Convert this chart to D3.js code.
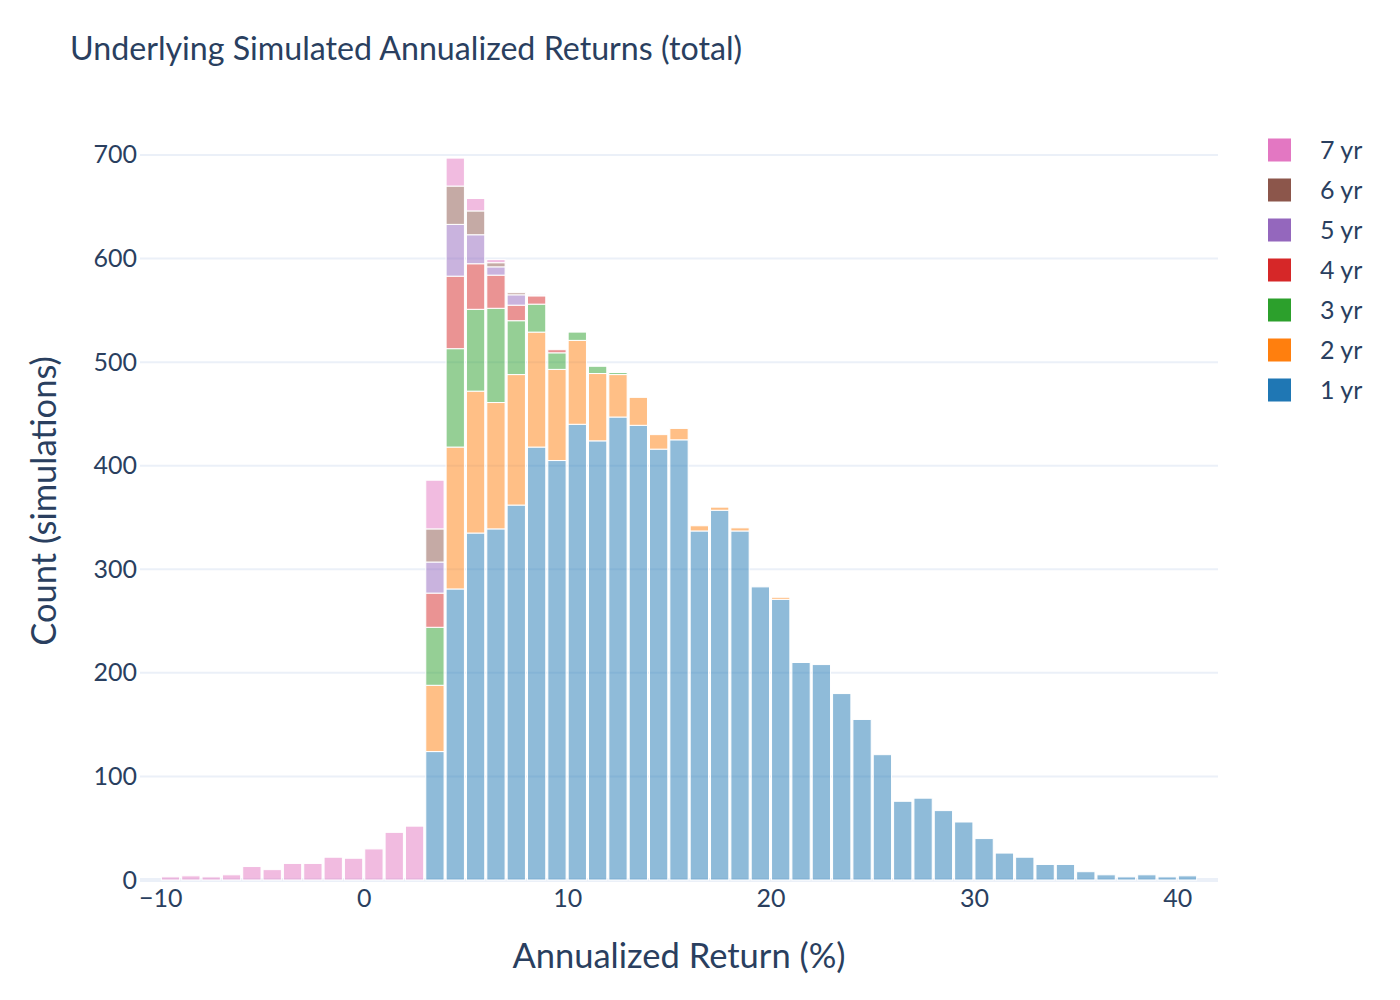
<!DOCTYPE html>
<html>
<head>
<meta charset="utf-8">
<script src="https://cdn.jsdelivr.net/npm/d3@7"></script>
<style>
  body { margin: 0; background: #fff; }
  text { font-family: "Source Sans Pro", Lato, "Noto Sans", sans-serif; fill: #2a3f5f; }
</style>
</head>
<body>
<svg id="chart"></svg>
<script>
// histogram bins, width 1 (%), labelled by bin start
var bins = [-10,-9,-8,-7,-6,-5,-4,-3,-2,-1,0,1,2,3,4,5,6,7,8,9,10,11,12,13,14,15,16,17,18,19,20,
            21,22,23,24,25,26,27,28,29,30,31,32,33,34,35,36,37,38,39,40];

// counts per horizon, each list starts at the bin given in *From
var yr1From = 3;
var yr1 = [124,281,335,339,362,418,405,440,424,447,439,416,425,337,357,337,283,271,210,208,180,155,121,76,79,67,56,40,26,22,15,15,8,5,3,5,3,4];
var yr2From = 3;
var yr2 = [64,137,137,122,126,111,88,81,65,41,27,14,11,5,3,3,0,2];
var yr3From = 3;
var yr3 = [56,95,79,91,52,27,16,8,7,2];
var yr4From = 3;
var yr4 = [33,70,44,32,15,8,3];
var yr5From = 3;
var yr5 = [30,50,28,8,10,1];
var yr6From = 3;
var yr6 = [32,37,23,4,2];
var yr7From = -10;
var yr7 = [3,4,3,5,13,10,16,16,22,21,30,46,52,47,27,12,3];

var seriesNames = ["1 yr","2 yr","3 yr","4 yr","5 yr","6 yr","7 yr"];
var seriesColors = ["#1f77b4","#ff7f0e","#2ca02c","#d62728","#9467bd","#8c564b","#e377c2"];
var yTicks = [0,100,200,300,400,500,600,700];
var xTicks = [-10,0,10,20,30,40];

var lists = [[yr1,yr1From],[yr2,yr2From],[yr3,yr3From],[yr4,yr4From],[yr5,yr5From],[yr6,yr6From],[yr7,yr7From]];

// table: one row per bin
var table = bins.map(function(b){
    var row = {bin: b};
    seriesNames.forEach(function(name, i){
        var arr = lists[i][0], from = lists[i][1];
        var v = arr[b - from];
        row[name] = v === undefined ? 0 : v;
    });
    return row;
});

var width = 1400, height = 1000;
var margin = {top: 122, right: 182, bottom: 120, left: 140};

var svg = d3.select("#chart")
    .attr("width", width)
    .attr("height", height);

var stack = d3.stack().keys(seriesNames)(table);
var maxTotal = d3.max(table, function(r){ return d3.sum(seriesNames, function(n){ return r[n]; }); });

var xScale = d3.scaleLinear()
    .domain([-11, 42])
    .range([margin.left, width - margin.right]);

var yScale = d3.scaleLinear()
    .domain([0, maxTotal * 1.05])
    .range([height - margin.bottom, margin.top]);

// gridlines
svg.append("g")
    .selectAll("line")
    .data(yTicks.filter(function(t){ return t > 0; }))
    .enter()
    .append("line")
    .attr("x1", xScale.range()[0])
    .attr("x2", xScale.range()[1])
    .attr("y1", function(d){ return yScale(d); })
    .attr("y2", function(d){ return yScale(d); })
    .attr("stroke", "#EBF0F8")
    .attr("stroke-width", 2);

// zero line
svg.append("line")
    .attr("x1", xScale.range()[0])
    .attr("x2", xScale.range()[1])
    .attr("y1", yScale(0))
    .attr("y2", yScale(0))
    .attr("stroke", "#EBF0F8")
    .attr("stroke-width", 4);

// bars
var bargap = 0.1;
var layers = svg.append("g")
    .selectAll("g")
    .data(stack)
    .enter()
    .append("g")
    .attr("fill", function(d, i){ return seriesColors[i]; })
    .attr("fill-opacity", 0.5);

layers.selectAll("rect")
    .data(function(d){ return d.filter(function(p){ return p[1] > p[0]; }); })
    .enter()
    .append("rect")
    .attr("x", function(p){ return xScale(p.data.bin + bargap / 2); })
    .attr("width", function(p){ return xScale(p.data.bin + 1 - bargap / 2) - xScale(p.data.bin + bargap / 2); })
    .attr("y", function(p){ return yScale(p[1]); })
    .attr("height", function(p){ return yScale(p[0]) - yScale(p[1]); })
    .attr("stroke", "#fff")
    .attr("stroke-width", 1);

// axes (labels only, plotly style)
var xAxis = d3.axisBottom(xScale).tickValues(xTicks).tickSize(0).tickPadding(0)
    .tickFormat(function(d){ return d < 0 ? "\u2212" + Math.abs(d) : d; });
var gx = svg.append("g")
    .attr("transform", "translate(0," + (height - margin.bottom) + ")")
    .call(xAxis);
gx.select(".domain").remove();
gx.selectAll("text")
    .attr("y", 27)
    .attr("dy", 0)
    .style("font-size", "25px")
    .attr("fill", "#2a3f5f");

var yAxis = d3.axisLeft(yScale).tickValues(yTicks).tickSize(0).tickPadding(3);
var gy = svg.append("g")
    .attr("transform", "translate(" + margin.left + ",0)")
    .call(yAxis);
gy.select(".domain").remove();
gy.selectAll("text")
    .style("font-size", "25px")
    .attr("fill", "#2a3f5f");

// titles
svg.append("text")
    .attr("x", 70)
    .attr("y", 60)
    .style("font-size", "32.2px")
    .text("Underlying Simulated Annualized Returns (total)");

svg.append("text")
    .attr("x", (xScale.range()[0] + xScale.range()[1]) / 2)
    .attr("y", 968)
    .attr("text-anchor", "middle")
    .style("font-size", "34.5px")
    .text("Annualized Return (%)");

svg.append("text")
    .attr("transform", "translate(56," + ((yScale.range()[0] + yScale.range()[1]) / 2) + ") rotate(-90)")
    .attr("text-anchor", "middle")
    .style("font-size", "34.5px")
    .text("Count (simulations)");

// legend, 7 yr on top
var legendOrder = seriesNames.slice().reverse();
var legend = svg.append("g")
    .selectAll("g")
    .data(legendOrder)
    .enter()
    .append("g")
    .attr("transform", function(d, i){ return "translate(1268," + (150 + i * 40) + ")"; });

legend.append("rect")
    .attr("x", 0)
    .attr("y", -11.5)
    .attr("width", 23)
    .attr("height", 23)
    .attr("fill", function(d){ return seriesColors[seriesNames.indexOf(d)]; });

legend.append("text")
    .attr("x", 52)
    .attr("dy", "0.35em")
    .style("font-size", "25px")
    .text(function(d){ return d; });
</script>
</body>
</html>
